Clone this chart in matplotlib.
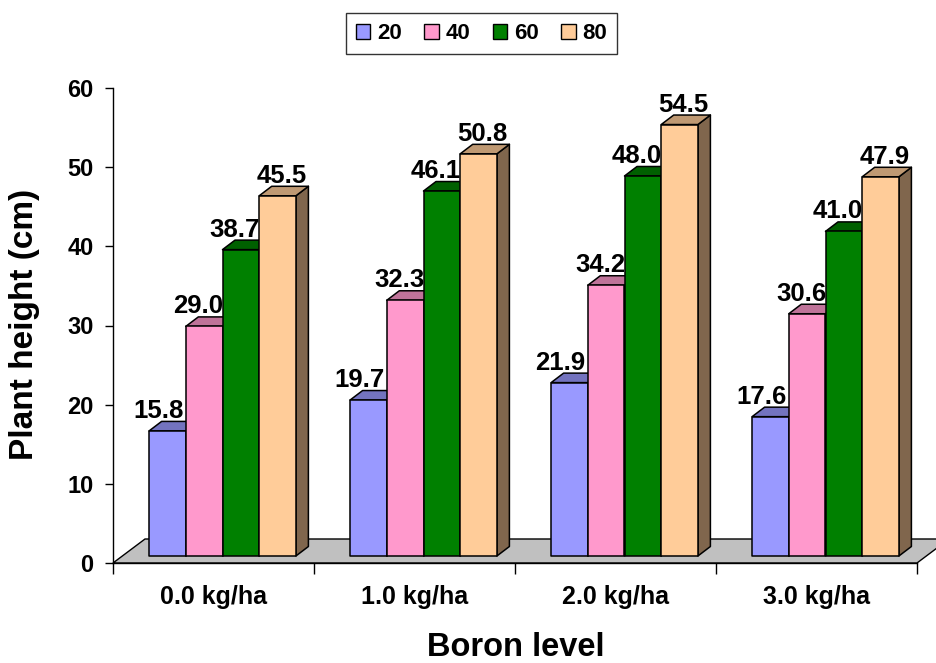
import matplotlib
matplotlib.use("Agg")
import matplotlib.pyplot as plt
from matplotlib.patches import Polygon, Patch
import numpy as np

plt.rcParams['font.family'] = ['Liberation Sans', 'DejaVu Sans']
plt.rcParams['font.weight'] = 'bold'

levels = ['0.0 kg/ha', '1.0 kg/ha', '2.0 kg/ha', '3.0 kg/ha']
series_names = ['20', '40', '60', '80']
h20 = [15.8, 19.7, 21.9, 17.6]
h40 = [29.0, 32.3, 34.2, 30.6]
h60 = [38.7, 46.1, 48.0, 41.0]
h80 = [45.5, 50.8, 54.5, 47.9]
series = [h20, h40, h60, h80]
colors = ['#9999FF', '#FF99CC', '#008000', '#FFCC99']

W, H = 936, 663
fig = plt.figure(figsize=(W / 100, H / 100), dpi=100)
ax_l, ax_b, ax_w, ax_h = 113, 100, 804, 475
ax = fig.add_axes([ax_l / W, ax_b / H, ax_w / W, ax_h / H])
ax.set_xlim(0, 4)
ax.set_ylim(0, 60)

# pixel -> data conversion for the fake 3d depth
sx = 4 / ax_w
sy = 60 / ax_h

def shade(c, f):
    r, g, b = matplotlib.colors.to_rgb(c)
    return (r * f, g * f, b * f)

# floor plate
fdx, fdy = 32 * sx, 24 * sy
floor = Polygon([(0, 0), (4, 0), (4 + fdx, fdy), (fdx, fdy)], closed=True,
                facecolor='#C0C0C0', edgecolor='black', lw=1.0, clip_on=False, zorder=1)
ax.add_patch(floor)

# bars
bw = 36.7 * sx
ox, oy = 9 * sx, 7 * sy          # front face shift from axis plane
ddx, ddy = 12.5 * sx, 9.5 * sy   # bar depth
lab_dx = [-9, -6, -6, 4]
z = 2
for i in range(len(levels)):
    start = i + 0.5 - 2 * bw + ox
    for k, vals in enumerate(series):
        v = vals[i]
        x0 = start + k * bw
        x1 = x0 + bw
        y0, y1 = oy, oy + v
        side = Polygon([(x1, y0), (x1 + ddx, y0 + ddy), (x1 + ddx, y1 + ddy), (x1, y1)],
                       facecolor=shade(colors[k], 0.5), edgecolor='black', lw=1.1,
                       joinstyle='round', clip_on=False, zorder=z)
        top = Polygon([(x0, y1), (x1, y1), (x1 + ddx, y1 + ddy), (x0 + ddx, y1 + ddy)],
                      facecolor=shade(colors[k], 0.75), edgecolor='black', lw=1.1,
                      joinstyle='round', clip_on=False, zorder=z + 0.1)
        front = Polygon([(x0, y0), (x1, y0), (x1, y1), (x0, y1)],
                        facecolor=colors[k], edgecolor='black', lw=1.1,
                        joinstyle='round', clip_on=False, zorder=z + 0.2)
        for p in (side, top, front):
            ax.add_patch(p)
        ax.text((x0 + x1) / 2 + lab_dx[k] * sx, y1 + 13 * sy, f'{v:.1f}',
                ha='center', va='baseline', fontsize=18.5, fontweight='bold', zorder=20)
        z += 1

# axes styling
for s in ('top', 'right'):
    ax.spines[s].set_visible(False)
ax.spines['left'].set_linewidth(1.0)
ax.spines['bottom'].set_linewidth(1.0)
ax.spines['left'].set_zorder(50)
ax.set_yticks(np.arange(0, 61, 10))
ax.tick_params(axis='y', direction='out', length=6, width=1.0, labelsize=17, pad=8)
ax.set_xticks([0, 1, 2, 3, 4])
ax.set_xticklabels([])
ax.set_xticks(np.arange(4) + 0.5, minor=True)
ax.set_xticklabels(levels, minor=True, fontsize=18, fontweight='bold')
ax.tick_params(axis='x', which='major', direction='out', length=8, width=1.0)
ax.tick_params(axis='x', which='minor', length=0, pad=16)
for t in ax.get_yticklabels():
    t.set_fontweight('bold')

fig.text(25 / W, 1 - 324 / H, 'Plant height (cm)', rotation=90, ha='center', va='center',
         fontsize=24, fontweight='bold')
fig.text(516 / W, 1 - 647 / H, 'Boron level', ha='center', va='center',
         fontsize=23.5, fontweight='bold')

handles = [Patch(facecolor=c, edgecolor='black', lw=1.0) for c in colors]
leg = fig.legend(handles, series_names, loc='center', bbox_to_anchor=(481.5 / W, 1 - 33.5 / H),
                 ncol=4, frameon=True, fancybox=False, handlelength=0.65,
                 handleheight=0.65, handletextpad=0.32, columnspacing=1.0, borderpad=0.45,
                 prop={'weight': 'bold', 'size': 16})
leg.get_frame().set_edgecolor('black')
leg.get_frame().set_linewidth(1.0)

fig.savefig('out.png', dpi=100)
